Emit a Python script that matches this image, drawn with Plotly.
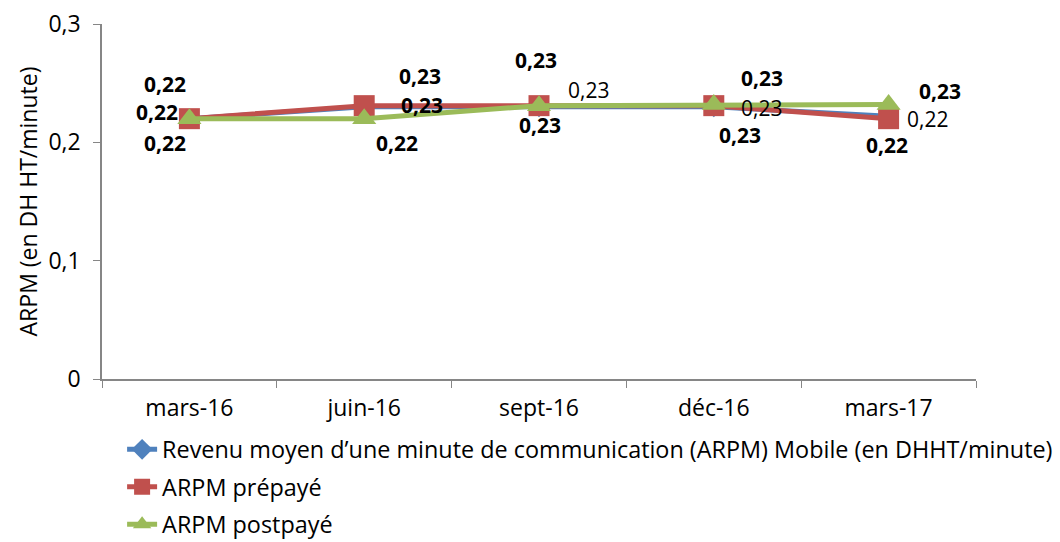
import plotly.graph_objects as go

categories = ["mars-16", "juin-16", "sept-16", "déc-16", "mars-17"]
arpm_mobile = [0.22, 0.23, 0.23, 0.23, 0.222]
arpm_prepaye = [0.22, 0.231, 0.231, 0.231, 0.22]
arpm_postpaye = [0.22, 0.22, 0.231, 0.232, 0.232]
y_ticks = [0, 0.1, 0.2, 0.3]

names = ["Revenu moyen d\u2019une minute de communication (ARPM) Mobile (en DHHT/minute)",
         "ARPM prépayé", "ARPM postpayé"]
colors = ["#4F81BD", "#C0504D", "#9BBB59"]
symbols = ["diamond", "square", "triangle-up"]
series = [arpm_mobile, arpm_prepaye, arpm_postpaye]

FONT = "Open Sans"
FS = 23
LFS = 21
fig = go.Figure()
for i, (nm, vals) in enumerate(zip(names, series)):
    fig.add_trace(go.Scatter(
        x=categories, y=vals, name=nm, mode="lines+markers",
        line=dict(color=colors[i], width=5),
        marker=dict(symbol=symbols[i], size=21 if i else 16, color=colors[i]),
        legendgroup=str(i), cliponaxis=False,
    ))

# label offsets per series per point (xshift, yshift, bold)
label_style = {
    0: [(-32, 7, True), (58, 2, True), (49, 17, False), (48, -1, False), (39, -3, False)],
    1: [(-24, -24, True), (56, 30, True), (-3, 46, True), (48, 28, True), (-2, -26, True)],
    2: [(-24, 35, True), (33, -24, True), (1, -19, True), (26, -31, True), (51, 13, True)],
}
for i, vals in enumerate(series):
    for j, (c, v) in enumerate(zip(categories, vals)):
        dx, dy, bold = label_style[i][j]
        txt = f"{v:.2f}".replace(".", ",")
        if bold:
            txt = "<b>" + txt + "</b>"
        fig.add_annotation(x=c, y=v, text=txt, showarrow=False, xshift=dx, yshift=dy,
                           font=dict(family=FONT, size=LFS, color="black"))

fig.update_layout(
    width=1060, height=542,
    margin=dict(l=102, r=84, t=24, b=163, autoexpand=False),
    paper_bgcolor="white", plot_bgcolor="white",
    separators=", ",
    font=dict(family=FONT, size=FS, color="black"),
    showlegend=True,
    legend=dict(orientation="v", x=0.023, xanchor="left", y=-0.137, yanchor="top",
                font=dict(family=FONT, size=23.4), tracegroupgap=4,
                bgcolor="rgba(0,0,0,0)"),
)
fig.update_xaxes(range=[-0.5, 4.5], showline=True, linecolor="#868686", linewidth=1.5,
                 ticks="outside", tickson="boundaries", ticklen=7, tickcolor="#868686",
                 showgrid=False, tickfont=dict(size=FS, family=FONT), ticklabelstandoff=8)
fig.update_yaxes(range=[0, 0.3], tickvals=y_ticks, showline=True, linecolor="#868686",
                 linewidth=1.5, ticks="outside", ticklen=7, tickcolor="#868686",
                 showgrid=False, zeroline=False, ticklabelstandoff=8,
                 title=dict(text="ARPM (en DH HT/minute)", font=dict(size=FS, family=FONT), standoff=4),
                 tickfont=dict(size=FS, family=FONT))

fig.write_html("out.html", config={"displayModeBar": False},
               post_script="document.body.style.margin='0';")
